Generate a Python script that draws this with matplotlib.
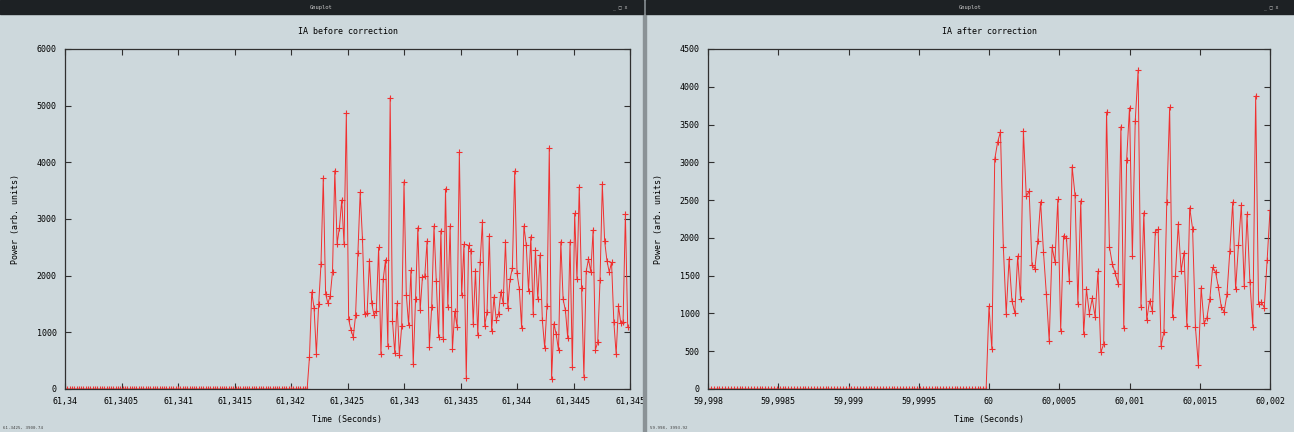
import numpy as np
import matplotlib
matplotlib.use('Agg')
import matplotlib.pyplot as plt
from matplotlib.patches import Rectangle

"""
(1) data read off the two gnuplot windows
"""

dt = 1 / 49000.0

# before correction: quiet samples, then the burst
before_t0 = 61.34
before_n_quiet = 106
before_power = [
    559, 1712, 1429, 618, 1494, 2200, 3724, 1682, 1512, 1641,
    2071, 3853, 2565, 2847, 3335, 2553, 4871, 1229, 1041, 912,
    1300, 2400, 3471, 2641, 1318, 1335, 2265, 1512, 1300, 1382,
    2500, 612, 1941, 2282, 753, 5141, 1206, 630, 1512, 594,
    1112, 3659, 1665, 1135, 2094, 435, 1582, 2847, 1388, 1976,
    1988, 2612, 741, 1441, 2876, 1912, 923, 2794, 882, 3535,
    1453, 2876, 700, 1371, 1100, 4176, 1653, 2553, 188, 2535,
    2429, 1147, 2088, 947, 2235, 2947, 1118, 1359, 2706, 1018,
    1624, 1218, 1324, 1718, 1512, 2594, 1435, 1941, 2135, 3847,
    2041, 1771, 1082, 2876, 2547, 1729, 2688, 1329, 2447, 1594,
    2365, 1212, 729, 1465, 4259, 176, 1153, 965, 688, 2600,
    1582, 1388, 894, 2600, 382, 3100, 1935, 3571, 1782, 218,
    2076, 2294, 2065, 2806, 694, 824, 1918, 3612, 2612, 2265,
    2065, 2235, 1176, 612, 1465, 1165, 1188, 3088, 1100,
]

# after correction
after_t0 = 59.998
after_n_quiet = 98
after_power = [
    1094, 525, 3040, 3265, 3406, 1879, 993, 1725, 1169, 1006,
    1760, 1187, 3415, 2550, 2621, 1637, 1593, 1959, 2479, 1813,
    1257, 631, 1875, 1685, 2510, 772, 2029, 2003, 1433, 2942,
    2568, 1125, 2492, 732, 1319, 997, 1200, 957, 1557, 485,
    596, 3666, 1879, 1659, 1531, 1394, 3472, 803, 3031, 3723,
    1760, 3547, 4218, 1081, 2334, 918, 1165, 1028, 2082, 2113,
    573, 754, 2479, 3728, 957, 1491, 2184, 1566, 1804, 834,
    2400, 2122, 816, 322, 1341, 869, 944, 1187, 1610, 1549,
    1346, 1090, 1019, 1257, 1831, 2475, 1319, 1901, 2435, 1368,
    2312, 1412, 825, 3878, 1129, 1151, 1076, 1703, 2365,
]

before_xticks = ['61,34', '61,3405', '61,341', '61,3415', '61,342', '61,3425',
                 '61,343', '61,3435', '61,344', '61,3445', '61,345']
after_xticks = ['59,998', '59,9985', '59,999', '59,9995', '60', '60,0005',
                '60,001', '60,0015', '60,002']

"""
(2) look
"""

W, H = 1294, 432
BG = '#cdd8dc'
BAR = '#1d2124'
RED = '#f03030'
FONT = 'DejaVu Sans Mono'
FS = 6


def px_axes(fig, x0, x1, y_top, y_bot):
    return fig.add_axes([x0 / W, (H - y_bot) / H, (x1 - x0) / W, (y_bot - y_top) / H])


def window_bar(fig, x0, x1):
    fig.patches.append(Rectangle((x0 / W, 1 - 14 / H), (x1 - x0) / W, 14 / H,
                                 transform=fig.transFigure, color=BAR, zorder=5))
    fig.text((x0 + x1) / 2 / W, 1 - 7 / H, 'Gnuplot', color='#c8c8c8', fontsize=4,
             family=FONT, ha='center', va='center', zorder=6)
    fig.text((x1 - 16) / W, 1 - 7 / H, '_ \u25a1 x', color='#c8c8c8', fontsize=3.5,
             family=FONT, ha='right', va='center', zorder=6)


def draw(ax, t0, n_quiet, power, ymax, ystep, xlim, xticks, title):
    values = [0] * n_quiet + list(power)
    t = t0 + dt * np.arange(len(values))
    ax.set_facecolor(BG)
    ax.plot(t, values, color=RED, lw=0.7, marker='+', ms=4, mew=0.8,
            mec=RED, mfc=RED)
    ax.set_xlim(*xlim)
    ax.set_ylim(0, ymax)
    ax.set_xticks(np.linspace(xlim[0], xlim[1], len(xticks)))
    ax.set_xticklabels(xticks)
    ax.set_yticks(np.arange(0, ymax + 1, ystep))
    ax.set_yticklabels([str(int(v)) for v in np.arange(0, ymax + 1, ystep)])
    ax.tick_params(direction='in', top=True, right=True, length=4, width=0.8,
                   color='#303030', labelsize=FS, pad=6)
    for lab in ax.get_xticklabels() + ax.get_yticklabels():
        lab.set_family(FONT)
    for s in ax.spines.values():
        s.set_color('#303030')
        s.set_linewidth(0.9)
    ax.set_title(title, fontsize=FS, family=FONT, pad=11)
    ax.set_xlabel('Time (Seconds)', fontsize=FS, family=FONT, labelpad=6)
    ax.set_ylabel('Power (arb. units)', fontsize=FS, family=FONT, labelpad=12)


fig = plt.figure(figsize=(W / 100, H / 100), dpi=100, facecolor=BG)

window_bar(fig, 0, 643)
window_bar(fig, 646, W)
fig.patches.append(Rectangle((643 / W, 0), 3 / W, 1, transform=fig.transFigure,
                             color='#8a9296', zorder=4))

ax1 = px_axes(fig, 65, 630, 49, 389)
draw(ax1, before_t0, before_n_quiet, before_power, 6000, 1000,
     (61.34, 61.345), before_xticks, 'IA before correction')

ax2 = px_axes(fig, 708, 1270, 49, 389)
draw(ax2, after_t0, after_n_quiet, after_power, 4500, 500,
     (59.998, 60.002), after_xticks, 'IA after correction')

fig.text(3 / W, 3 / H, '61.3425, 3900.74', fontsize=3, family=FONT, color='#404040')
fig.text(650 / W, 3 / H, '59.998, 3993.92', fontsize=3, family=FONT, color='#404040')

fig.savefig('out.png', dpi=100, facecolor=BG)
